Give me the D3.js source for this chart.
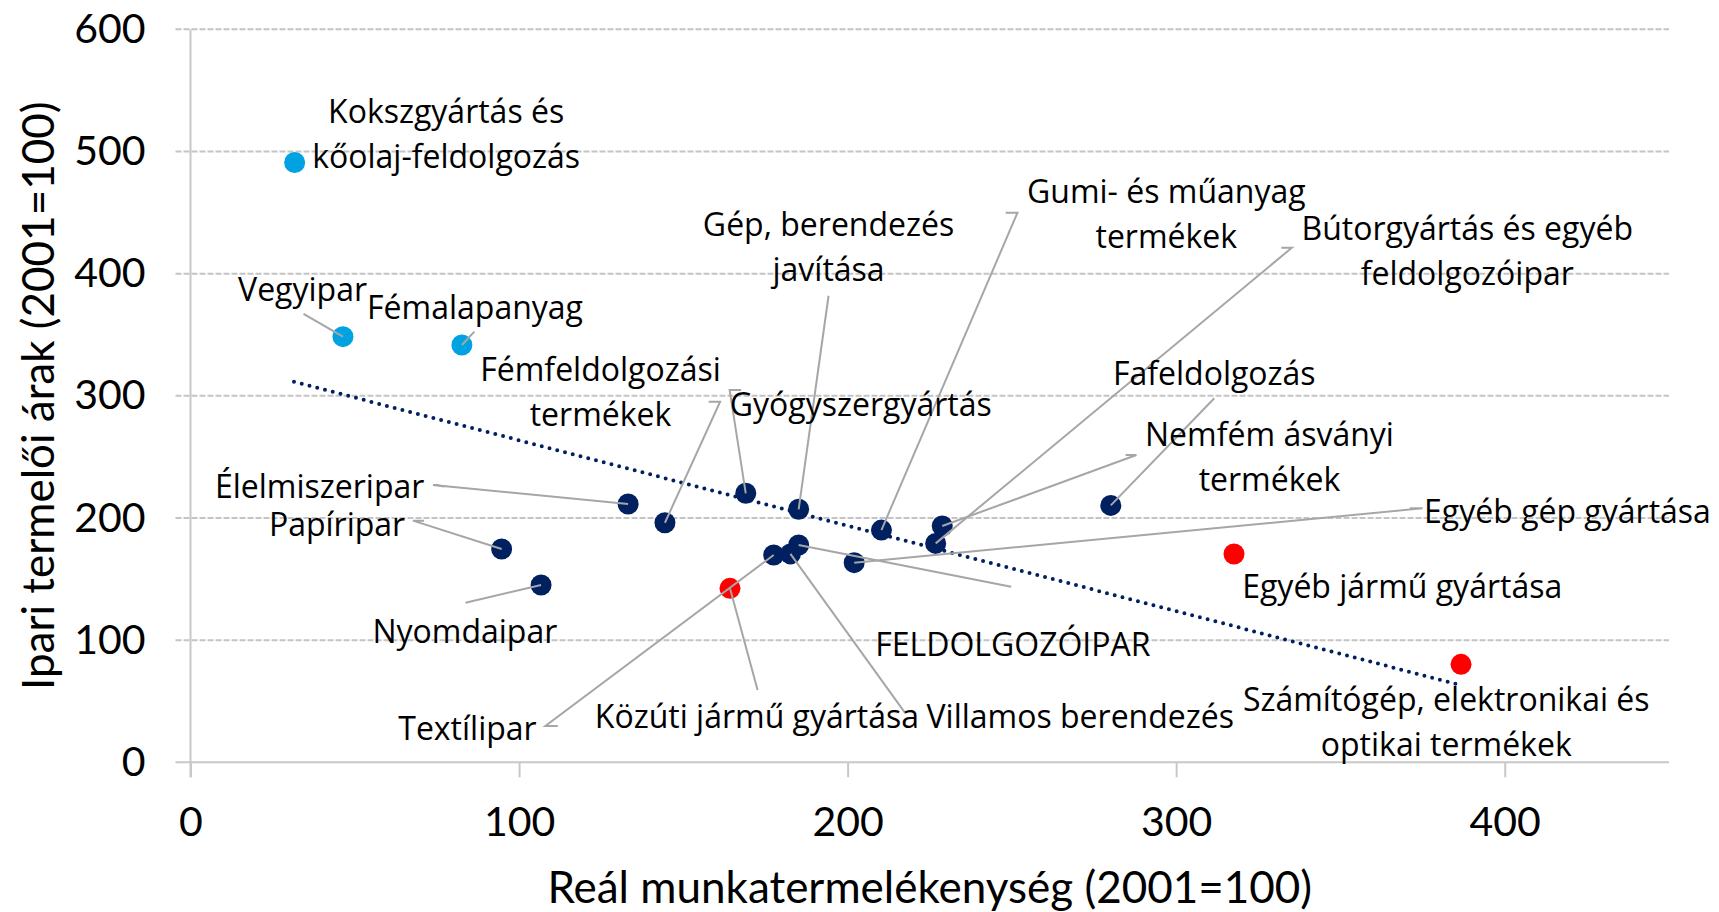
<!DOCTYPE html>
<html>
<head>
<meta charset="utf-8">
<style>
    body { margin: 0; background: #fff; }
    svg { display: block; font-family: Lato, "Open Sans", sans-serif; }
    .grid line { stroke: #c4c4c4; stroke-width: 2; stroke-dasharray: 6 2; }
    .axis-line { stroke: #c8c8c8; stroke-width: 2; }
    .tick-label { font-size: 41px; fill: #000; }
    .axis-title { font-size: 44px; fill: #000; }
    .lbl { font-family: "Open Sans", sans-serif; font-size: 32px; fill: #000; }
    .leader { fill: none; stroke: #a6a6a6; stroke-width: 2; }
</style>
</head>
<body>
<svg width="1719" height="912"></svg>

<script src="https://cdn.jsdelivr.net/npm/d3@7"></script>
<script>
    // industries (x: real labour productivity, y: producer prices, 2001=100)
    let names = ["Kokszgyártás", "Vegyipar", "Fémalapanyag", "Fémfeldolgozás", "Gyógyszergyártás",
        "Gép javítás", "Gumi", "Bútor", "Fafeldolgozás", "Nemfém", "Egyéb gép", "FELDOLGOZÓIPAR",
        "Egyéb jármű", "Számítógép", "Villamos", "Közúti jármű", "Textílipar", "Élelmiszeripar",
        "Papíripar", "Nyomdaipar"]
    let productivity = [31.7, 46.4, 82.6, 169.0, 144.4, 185.1, 210.3, 226.8, 280.1, 228.8,
        202.0, 185.1, 317.6, 386.7, 182.6, 164.2, 177.5, 133.2, 94.7, 106.7]
    let prices = [491, 348.4, 341.6, 220.2, 196.1, 207.1, 190.1, 179.2, 210.3, 193.4,
        163.4, 177.9, 170.5, 80.2, 170.6, 142.4, 169.7, 211.4, 174.6, 145.1]
    let groups = ["up", "up", "up", "mid", "mid", "mid", "mid", "mid", "mid", "mid",
        "mid", "mid", "down", "down", "mid", "down", "mid", "mid", "mid", "mid"]

    // dotted linear trend
    let trendX = [31.5, 385.7]
    let trendY = [311.5, 63.8]

    let xTicks = [0, 100, 200, 300, 400]
    let yTicks = [0, 100, 200, 300, 400, 500, 600]

    // label texts
    let labelText = [
        ["Kokszgyártás és", "kőolaj-feldolgozás"], ["Vegyipar"], ["Fémalapanyag"],
        ["Fémfeldolgozási", "termékek"], ["Gyógyszergyártás"], ["Gép, berendezés", "javítása"],
        ["Gumi- és műanyag", "termékek"], ["Bútorgyártás és egyéb", "feldolgozóipar"],
        ["Fafeldolgozás"], ["Nemfém ásványi", "termékek"], ["Egyéb gép gyártása"],
        ["FELDOLGOZÓIPAR"], ["Egyéb jármű gyártása"], ["Számítógép, elektronikai és", "optikai termékek"],
        ["Villamos berendezés"], ["Közúti jármű gyártása"], ["Textílipar"], ["Élelmiszeripar"],
        ["Papíripar"], ["Nyomdaipar"]
    ]

    // layout: label centre (data units) and leader elbows (data units), same order as names
    let labelPos = [
        [77.8, 532.5], [34.1, 386.6], [86.6, 371.9], [124.8, 321.1], [204.0, 292.5],
        [194.2, 439.8], [297.0, 466.8], [388.6, 437.1], [311.6, 318.4], [328.4, 267.9],
        [419.1, 205.1], [250.3, 96.0], [368.8, 143.7], [382.2, 51.0], [270.8, 37.3],
        [172.4, 37.3], [84.3, 27.8], [39.3, 225.3], [44.6, 194.6], [83.5, 106.7]
    ]
    let leaderPts = [
        [], [[34.4, 367.0]], [[86.4, 352.5]], [[164.1, 304.7], [167.6, 304.7]], [[161.2, 295.2], [157.7, 295.2]],
        [[194.2, 381.9]], [[251.7, 449.9], [248.1, 449.9]], [[335.2, 421.2], [332.0, 421.2]],
        [[311.6, 298.0]], [[287.9, 251.5], [284.6, 251.5]], [[375.0, 207.9], [371.1, 207.9]],
        [[249.8, 143.7]], [], [], [[217.6, 40.1]], [[172.6, 59.2]], [[108.0, 29.7], [111.8, 29.7]],
        [[73.8, 227.0], [77.4, 225.8]], [[67.7, 197.8], [71.1, 197.8]], [[83.7, 130.6]]
    ]

    let colors = { up: "#00a2e1", mid: "#002060", down: "#ff0000" }

    let svg = d3.select("svg")
    let mLeft = 190.5, mRight = 1669, mTop = 29.3, mBottom = 762.3

    let x = d3.scaleLinear().domain([0, 450]).range([mLeft, mRight])
    let y = d3.scaleLinear().domain([0, 600]).range([mBottom, mTop])

    // gridlines
    svg.append("g").attr("class", "grid")
        .selectAll("line")
        .data(yTicks.filter(d => d > 0))
        .join("line")
        .attr("x1", mLeft - 15).attr("x2", mRight)
        .attr("y1", d => y(d)).attr("y2", d => y(d))

    // axes
    let xAxis = svg.append("g").attr("transform", `translate(0,${mBottom})`)
        .call(d3.axisBottom(x).tickValues(xTicks).tickSize(15).tickPadding(30))
    let yAxis = svg.append("g").attr("transform", `translate(${mLeft},0)`)
        .call(d3.axisLeft(y).tickValues(yTicks).tickSize(15).tickPadding(30))

    xAxis.select(".domain").attr("d", `M${mLeft - 15},0H${mRight}`)
    yAxis.select(".domain").attr("d", `M0,${mTop}V${mBottom + 15}`)
    for (let ax of [xAxis, yAxis]) {
        ax.attr("font-family", null).attr("font-size", null)
        ax.select(".domain").attr("class", "axis-line").attr("fill", "none").attr("stroke", null)
        ax.selectAll(".tick line").attr("class", "axis-line").attr("stroke", null)
        ax.selectAll(".tick text").attr("class", "tick-label").attr("fill", null)
    }
    yAxis.selectAll(".tick line").remove()
    xAxis.selectAll(".tick text").attr("dy", "0.71em")

    // trend line
    svg.append("line")
        .attr("x1", x(trendX[0])).attr("y1", y(trendY[0]))
        .attr("x2", x(trendX[1])).attr("y2", y(trendY[1]))
        .style("stroke", "#002060")
        .style("stroke-width", 4)
        .style("stroke-linecap", "round")
        .style("stroke-dasharray", "0 8")

    // points
    svg.append("g")
        .selectAll("circle")
        .data(names)
        .join("circle")
        .attr("cx", (d, i) => x(productivity[i]))
        .attr("cy", (d, i) => y(prices[i]))
        .attr("r", 10.5)
        .style("fill", (d, i) => colors[groups[i]])

    // leader lines, from point to the label
    let line = d3.line()
    svg.append("g")
        .selectAll("path")
        .data(names.map((d, i) => i).filter(i => leaderPts[i].length))
        .join("path")
        .attr("class", "leader")
        .attr("d", i => line([[x(productivity[i]), y(prices[i])]]
            .concat(leaderPts[i].map(p => [x(p[0]), y(p[1])]))))

    // labels
    let lbl = svg.append("g")
        .selectAll("text")
        .data(names.map((d, i) => i))
        .join("text")
        .attr("class", "lbl")
        .attr("text-anchor", "middle")
        .attr("x", i => x(labelPos[i][0]))
        .attr("y", i => y(labelPos[i][1]))

    lbl.selectAll("tspan")
        .data(i => labelText[i].map(t => ({ t, i })))
        .join("tspan")
        .attr("x", d => x(labelPos[d.i][0]))
        .attr("dy", (d, k) => k === 0 ? "0.35em" : 45)
        .text(d => d.t)

    // axis titles
    svg.append("text")
        .attr("class", "axis-title")
        .attr("text-anchor", "middle")
        .attr("x", (mLeft + mRight) / 2)
        .attr("y", 903)
        .text("Reál munkatermelékenység (2001=100)")

    svg.append("text")
        .attr("class", "axis-title")
        .attr("text-anchor", "middle")
        .attr("transform", `translate(54,${(mTop + mBottom) / 2}) rotate(-90)`)
        .text("Ipari termelői árak (2001=100)")
</script>
</body>
</html>
